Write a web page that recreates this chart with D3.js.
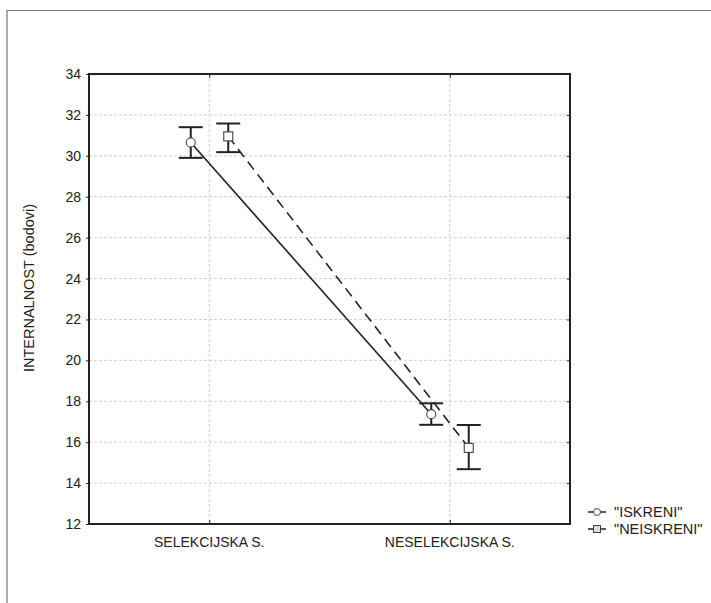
<!DOCTYPE html>
<html>
<head>
<meta charset="utf-8">
<script src="https://cdn.jsdelivr.net/npm/d3@7"></script>
<style>
  body { margin: 0; background: #fff; }
  text { font-family: "Liberation Sans", Arial, sans-serif; fill: #222; }
</style>
</head>
<body>
<div id="chart"></div>
<script>
var categories = ["SELEKCIJSKA S.", "NESELEKCIJSKA S."];
var seriesNames = ["\"ISKRENI\"", "\"NEISKRENI\""];
var iskreniMean = [30.65, 17.37];
var iskreniLow = [29.9, 16.85];
var iskreniHigh = [31.4, 17.9];
var neiskreniMean = [30.95, 15.72];
var neiskreniLow = [30.18, 14.68];
var neiskreniHigh = [31.58, 16.84];
var yTicks = [12, 14, 16, 18, 20, 22, 24, 26, 28, 30, 32, 34];

var margin = {top: 74, right: 141, bottom: 79, left: 89},
    width = 711 - margin.left - margin.right,
    height = 603 - margin.top - margin.bottom;

var root = d3.select("#chart")
  .append("svg")
    .attr("width", 711)
    .attr("height", 603);

// outer frame (top and left edges)
root.append("path")
  .attr("d", "M7,603 L7,10.5 L711,10.5")
  .attr("fill", "none")
  .attr("stroke", "#777")
  .attr("stroke-width", 1.2);

var svg = root.append("g")
    .attr("transform", "translate(" + margin.left + "," + margin.top + ")");

var x = d3.scalePoint()
  .domain(categories)
  .range([0, width])
  .padding(0.5);

var y = d3.scaleLinear()
  .domain([12, 34])
  .range([height, 0]);

// grid
svg.append("g").selectAll("line.hg")
  .data(yTicks.slice(1, -1))
  .enter().append("line")
    .attr("x1", 0).attr("x2", width)
    .attr("y1", function(d) { return y(d); })
    .attr("y2", function(d) { return y(d); })
    .attr("stroke", "#c4c4c4")
    .attr("stroke-dasharray", "3,2")
    .attr("stroke-width", 0.8);

svg.append("g").selectAll("line.vg")
  .data(categories)
  .enter().append("line")
    .attr("y1", 0).attr("y2", height)
    .attr("x1", function(d) { return x(d); })
    .attr("x2", function(d) { return x(d); })
    .attr("stroke", "#c4c4c4")
    .attr("stroke-dasharray", "3,2")
    .attr("stroke-width", 0.8);

// axes
var yAxis = svg.append("g")
  .call(d3.axisLeft(y).tickValues(yTicks).tickSize(3).tickPadding(5));
yAxis.select(".domain").remove();
yAxis.selectAll("text").style("font-size", "14px").attr("fill", "#222");
yAxis.selectAll("line").attr("stroke", "#222");

var yAxisR = svg.append("g")
  .attr("transform", "translate(" + width + ",0)")
  .call(d3.axisLeft(y).tickValues(yTicks).tickSize(3).tickFormat(""));
yAxisR.select(".domain").remove();
yAxisR.selectAll("line").attr("stroke", "#222");

var xAxis = svg.append("g")
  .attr("transform", "translate(0," + height + ")")
  .call(d3.axisTop(x).tickSize(4).tickFormat(""));
xAxis.select(".domain").remove();
xAxis.selectAll("line").attr("stroke", "#222");

svg.append("g").selectAll("text.cat")
  .data(categories)
  .enter().append("text")
    .attr("x", function(d) { return x(d); })
    .attr("y", height + 23)
    .attr("text-anchor", "middle")
    .style("font-size", "14px")
    .text(function(d) { return d; });

var xAxisT = svg.append("g")
  .call(d3.axisBottom(x).tickSize(4).tickFormat(""));
xAxisT.select(".domain").remove();
xAxisT.selectAll("line").attr("stroke", "#222");

svg.append("rect")
  .attr("width", width)
  .attr("height", height)
  .attr("fill", "none")
  .attr("stroke", "#222")
  .attr("stroke-width", 2);

svg.append("text")
  .attr("transform", "rotate(-90)")
  .attr("x", -214)
  .attr("y", -55)
  .attr("text-anchor", "middle")
  .style("font-size", "14.5px")
  .text("INTERNALNOST (bodovi)");

// series
var series = [
  {name: seriesNames[0], mean: iskreniMean, lo: iskreniLow, hi: iskreniHigh, off: -18.5, dash: null, shape: "circle"},
  {name: seriesNames[1], mean: neiskreniMean, lo: neiskreniLow, hi: neiskreniHigh, off: 19, dash: "10,6", shape: "square"}
];

var line = d3.line();

series.forEach(function(s) {
  var pts = categories.map(function(c, i) { return [x(c) + s.off, y(s.mean[i])]; });
  svg.append("path")
    .attr("d", line(pts))
    .attr("fill", "none")
    .attr("stroke", "#222")
    .attr("stroke-width", 1.6)
    .attr("stroke-dasharray", s.dash);

  categories.forEach(function(c, i) {
    var cx = x(c) + s.off;
    var g = svg.append("g").attr("stroke", "#222").attr("stroke-width", 2);
    g.append("line").attr("x1", cx).attr("x2", cx)
      .attr("y1", y(s.lo[i])).attr("y2", y(s.hi[i]));
    g.append("line").attr("x1", cx - 12).attr("x2", cx + 12)
      .attr("y1", y(s.lo[i])).attr("y2", y(s.lo[i]));
    g.append("line").attr("x1", cx - 12).attr("x2", cx + 12)
      .attr("y1", y(s.hi[i])).attr("y2", y(s.hi[i]));
  });

  svg.append("g").selectAll("mk")
    .data(pts)
    .enter().append(s.shape == "circle" ? "circle" : "rect")
    .each(function(p) {
      var el = d3.select(this);
      if (s.shape == "circle") {
        el.attr("cx", p[0]).attr("cy", p[1]).attr("r", 4.5);
      } else {
        el.attr("x", p[0] - 4.5).attr("y", p[1] - 4.5).attr("width", 9).attr("height", 9);
      }
    })
    .attr("fill", "#fff")
    .attr("stroke", "#444")
    .attr("stroke-width", 1.1);
});

// legend
var legend = root.append("g").attr("transform", "translate(588,512)");
series.forEach(function(s, i) {
  var g = legend.append("g").attr("transform", "translate(0," + (i * 17) + ")");
  g.append("line").attr("x1", 0).attr("x2", 18).attr("y1", 0).attr("y2", 0)
    .attr("stroke", "#222").attr("stroke-width", 1.5);
  if (s.shape == "circle") {
    g.append("circle").attr("cx", 9).attr("cy", 0).attr("r", 3.5)
      .attr("fill", "#fff").attr("stroke", "#444");
  } else {
    g.append("rect").attr("x", 5.5).attr("y", -3.5).attr("width", 7).attr("height", 7)
      .attr("fill", "#ddd").attr("stroke", "#444");
  }
  g.append("text").attr("x", 26).attr("y", 5)
    .style("font-size", "14.5px")
    .text(s.name);
});
</script>
</body>
</html>
